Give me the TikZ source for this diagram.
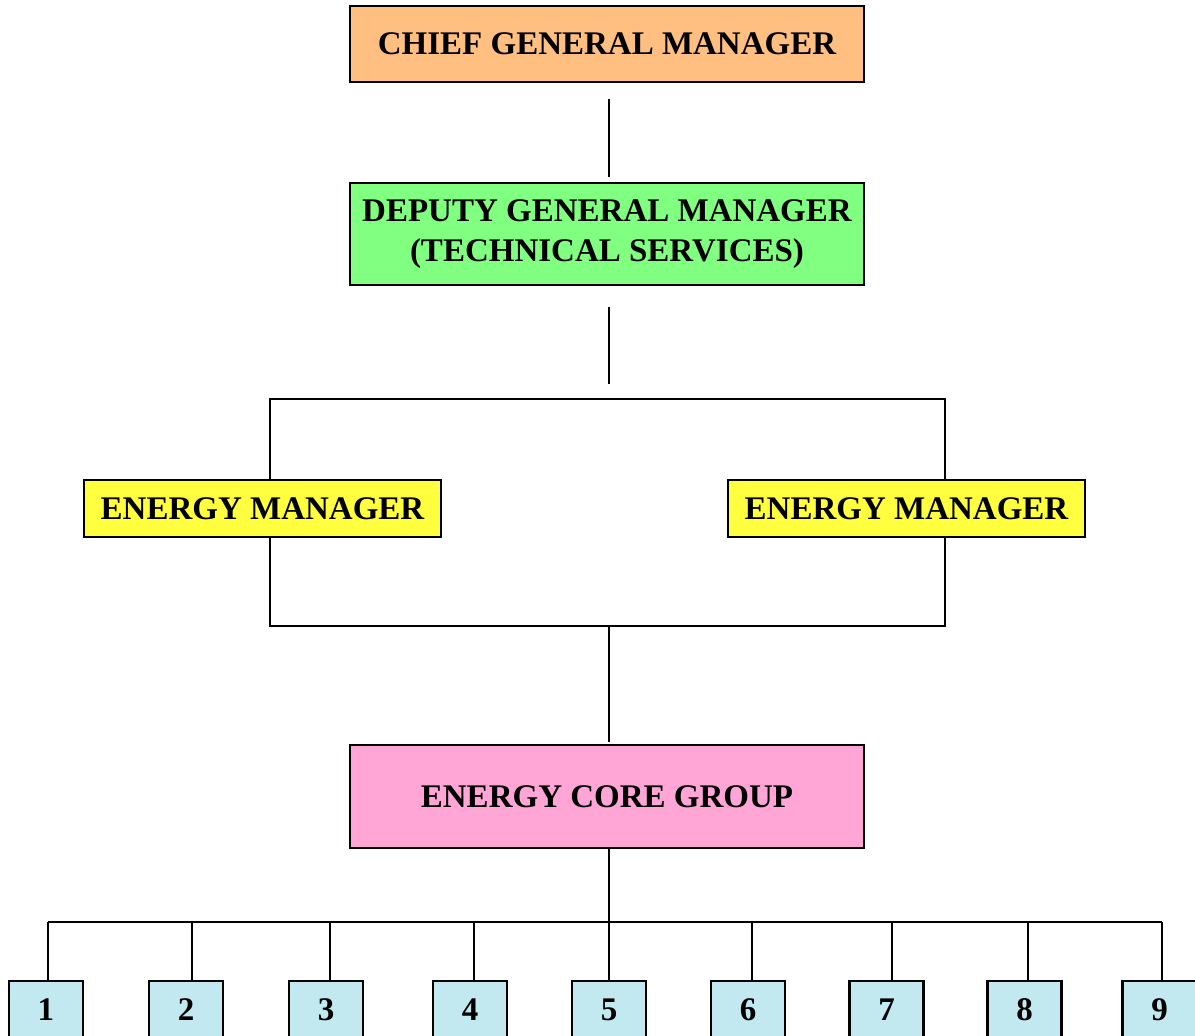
\documentclass[tikz,border=0pt]{standalone}
\usepackage{fontspec}
\setmainfont{Liberation Serif}
\usepackage{xcolor}
\usetikzlibrary{positioning,calc}

\definecolor{cgmorange}{HTML}{FFBF80}
\definecolor{dgmgreen}{HTML}{80FF80}
\definecolor{emyellow}{HTML}{FFFF40}
\definecolor{ecgpink}{HTML}{FFA6D6}
\definecolor{unitblue}{HTML}{C2E8F0}

\begin{document}
\begin{tikzpicture}[
    x=1pt,y=-1pt,
    box/.style={rectangle,draw,line width=2.4pt,align=center,inner sep=0pt,
        font=\fontsize{33}{40}\selectfont\bfseries},
    bigbox/.style={box,minimum width=514pt},
    embox/.style={box,fill=emyellow,minimum width=357pt,minimum height=57pt},
    unitbox/.style={box,fill=unitblue,minimum width=74pt,minimum height=64pt,anchor=north},
    link/.style={line width=2.4pt}
]
    \useasboundingbox (0,0) rectangle (1195,1036);

    \node[bigbox,fill=cgmorange,minimum height=76pt] (cgm) at (607,44) {CHIEF GENERAL MANAGER};
    \node[bigbox,fill=dgmgreen,minimum height=102pt] (dgm) at (607,234) {DEPUTY GENERAL MANAGER\\(TECHNICAL SERVICES)};
    \node[embox] (emleft) at (262.5,508.5) {ENERGY MANAGER};
    \node[embox] (emright) at (906.5,508.5) {ENERGY MANAGER};
    \node[bigbox,fill=ecgpink,minimum height=103pt] (ecg) at (607,796.5) {ENERGY CORE GROUP};

    % top links
    \coordinate (cgmlow) at (609,99);
    \coordinate (dgmup) at (609,177);
    \coordinate (dgmlow) at (609,307);
    \coordinate (splitup) at (609,384);
    \draw[link] (cgmlow) -- (dgmup);
    \draw[link] (dgmlow) -- (splitup);

    % brackets round the energy managers
    \draw[link] (emleft.north -| 270,0) -- (270,399) -- (945,399) -- (emright.north -| 945,0);
    \draw[link] (emleft.south -| 270,0) -- (270,626) -- (945,626) -- (emright.south -| 945,0);
    \coordinate (joinlow) at (609,626);
    \draw[link] (joinlow) -- (609,742);

    % core group to the units
    \coordinate (bus) at (609,922);
    \draw[link] (ecg.south -| bus) -- (bus);
    \draw[link] (48,922) -- (1162,922);
    \foreach \n/\bx/\dx in {1/46/48,2/186/192,3/326/330,4/470/474,5/609/609,6/748/752,7/886.5/892,8/1024.5/1028,9/1159.5/1162}{
        \node[unitbox] (unit\n) at (\bx,980) {\raisebox{8pt}{\n}};
        \draw[link] (\dx,922) -- (unit\n.north -| \dx,0);
    }
\end{tikzpicture}
\end{document}
